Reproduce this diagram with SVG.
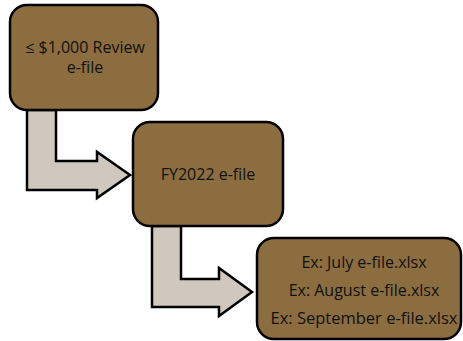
<svg xmlns="http://www.w3.org/2000/svg" width="463" height="341" viewBox="0 0 463 341">
<style>
.box{fill:#8c6d3f;stroke:#000;stroke-width:2.5}
.arr{fill:#d0c8bf;stroke:#000;stroke-width:2.5;stroke-linejoin:miter}
text{font-family:"Open Sans","Liberation Sans",sans-serif;font-size:16px;fill:#111;text-anchor:middle}
</style>
<rect width="463" height="341" fill="#fff"/>
<g id="connectors">
<path class="arr" d="M27,110 L56,110 L56,161 L97,161 L97,152 L130,175 L97,198 L97,190 L27,190 Z"/>
<path class="arr" d="M152,226 L181,226 L181,279 L219,279 L219,268 L252,292 L219,316 L219,307 L152,307 Z"/>
</g>
<g id="node1">
<rect class="box" x="10" y="5" width="148" height="105" rx="17"/>
<text x="85" y="53">≤ $1,000 Review</text>
<text x="85" y="73">e-file</text>
</g>
<g id="node2">
<rect class="box" x="133" y="122" width="150" height="104" rx="17"/>
<text x="208" y="180">FY2022 e-file</text>
</g>
<g id="node3">
<rect class="box" x="257" y="238" width="204" height="101" rx="17"/>
<text x="364" y="268">Ex: July e-file.xlsx</text>
<text x="364" y="296">Ex: August e-file.xlsx</text>
<text x="364" y="324" style="font-size:16.5px">Ex: September e-file.xlsx</text>
</g>
</svg>
